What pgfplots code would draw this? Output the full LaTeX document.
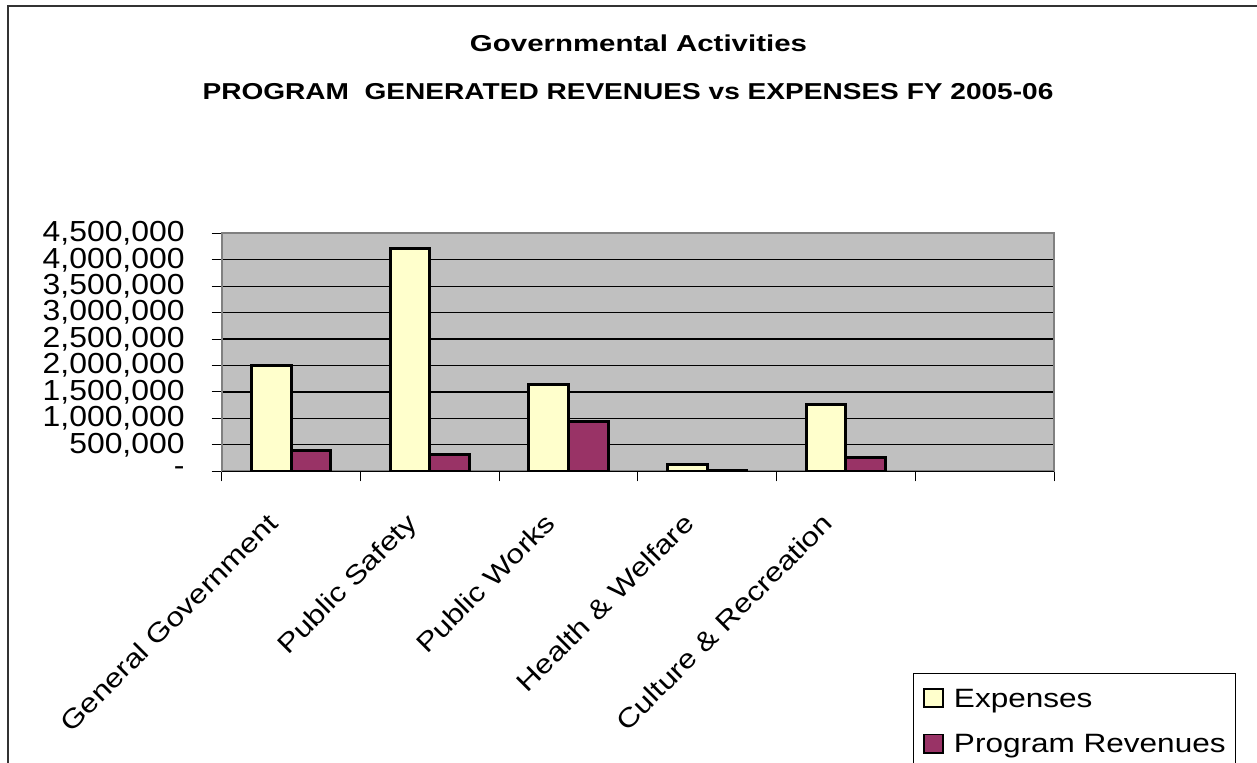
\documentclass[border=0pt]{standalone}
\usepackage{pgfplots}
\pgfplotsset{compat=1.18}
\usepackage{fontspec}
\setmainfont{Liberation Sans}
\newfontfamily\titleA[FakeStretch=1.28]{Liberation Sans}
\newfontfamily\titleB[FakeStretch=1.22]{Liberation Sans}
\newfontfamily\tickfont[FakeStretch=1.1]{Liberation Sans}
\newfontfamily\labfont[FakeStretch=1.19]{Liberation Sans}
\definecolor{expcol}{HTML}{FFFFCC}
\definecolor{revcol}{HTML}{993366}
\definecolor{plotbg}{HTML}{C0C0C0}
\definecolor{framecol}{HTML}{808080}
\definecolor{outercol}{HTML}{333333}

\begin{document}
\begin{tikzpicture}[x=0.5pt,y=0.5pt]
\draw[outercol, line width=0.85pt] (8,-20) -- (8,756.2) -- (1280,756.2);
\node[anchor=base, inner sep=0pt, font=\titleA\bfseries\fontsize{11.5}{13}\selectfont] at (638.5,710) {Governmental Activities};
\node[anchor=base, inner sep=0pt, font=\titleB\bfseries\fontsize{11.5}{13}\selectfont] at (628,662.7) {PROGRAM\ \ GENERATED REVENUES vs EXPENSES FY 2005-06};
\begin{axis}[
  at={(110.85pt,145.35pt)}, anchor=south west, scale only axis,
  width=416.15pt, height=119pt,
  xmin=0.5, xmax=6.5, ymin=0, ymax=4500000,
  axis background/.style={fill=plotbg},
  axis line style={draw=framecol, line width=1pt},
  ybar, bar width=19.8pt,
  xtick={1,2,3,4,5},
  xticklabels={General Government, Public Safety, Public Works, Health \& Welfare, Culture \& Recreation},
  minor xtick={0.5,1.5,2.5,3.5,4.5,5.5,6.5},
  ytick={0,500000,1000000,1500000,2000000,2500000,3000000,3500000,4000000,4500000},
  yticklabels={-,{500,000},{1,000,000},{1,500,000},{2,000,000},{2,500,000},{3,000,000},{3,500,000},{4,000,000},{4,500,000}},
  scaled y ticks=false,
  tick align=outside, tick pos=left,
  major tick length=5pt, minor tick length=5pt,
  major x tick style={draw=none},
  minor x tick style={black, line width=0.5pt},
  y tick style={black, line width=0.5pt},
  ymajorgrids, grid style={black, line width=0.6pt},
  yticklabel shift=13.35pt,
  yticklabel style={font=\tickfont\fontsize{14.5}{14.5}\selectfont, anchor=east, inner sep=0pt},
  xticklabel style={font=\labfont\fontsize{13.25}{15}\selectfont, inner sep=0pt, text height=0.72em, text depth=0.21em, xshift=-7.4pt, yshift=-20pt, rotate=45, anchor=east},
  legend style={at={(0.8302,-0.8487)}, anchor=north west, draw=black, line width=0.5pt, fill=white,
    inner xsep=5pt, inner ysep=6.75pt, row sep=12.35pt, column sep=5pt,
    font=\labfont\fontsize{13.25}{15}\selectfont,
    nodes={inner sep=0pt, text height=10pt, text depth=0pt}},
  legend cell align=left,
  legend image code/.code={\draw[#1, line width=0.9pt] (0pt,-5pt) rectangle (9.5pt,4.2pt);},
]
\addplot[fill=expcol, draw=black, line width=1.5pt, bar shift=-9.9pt] coordinates {
  (1,2000000) (2,4220000) (3,1650000) (4,120000) (5,1265000)};
\addplot[fill=revcol, draw=black, line width=1.5pt, bar shift=9.9pt] coordinates {
  (1,400000) (2,320000) (3,945000) (4,10000) (5,265000)};
\legend{Expenses, Program Revenues}
\draw[black, line width=0.7pt] (rel axis cs:0,0) -- (rel axis cs:1,0);
\end{axis}
\pgfresetboundingbox
\useasboundingbox (0,0) rectangle (1257,762);
\end{tikzpicture}
\end{document}
